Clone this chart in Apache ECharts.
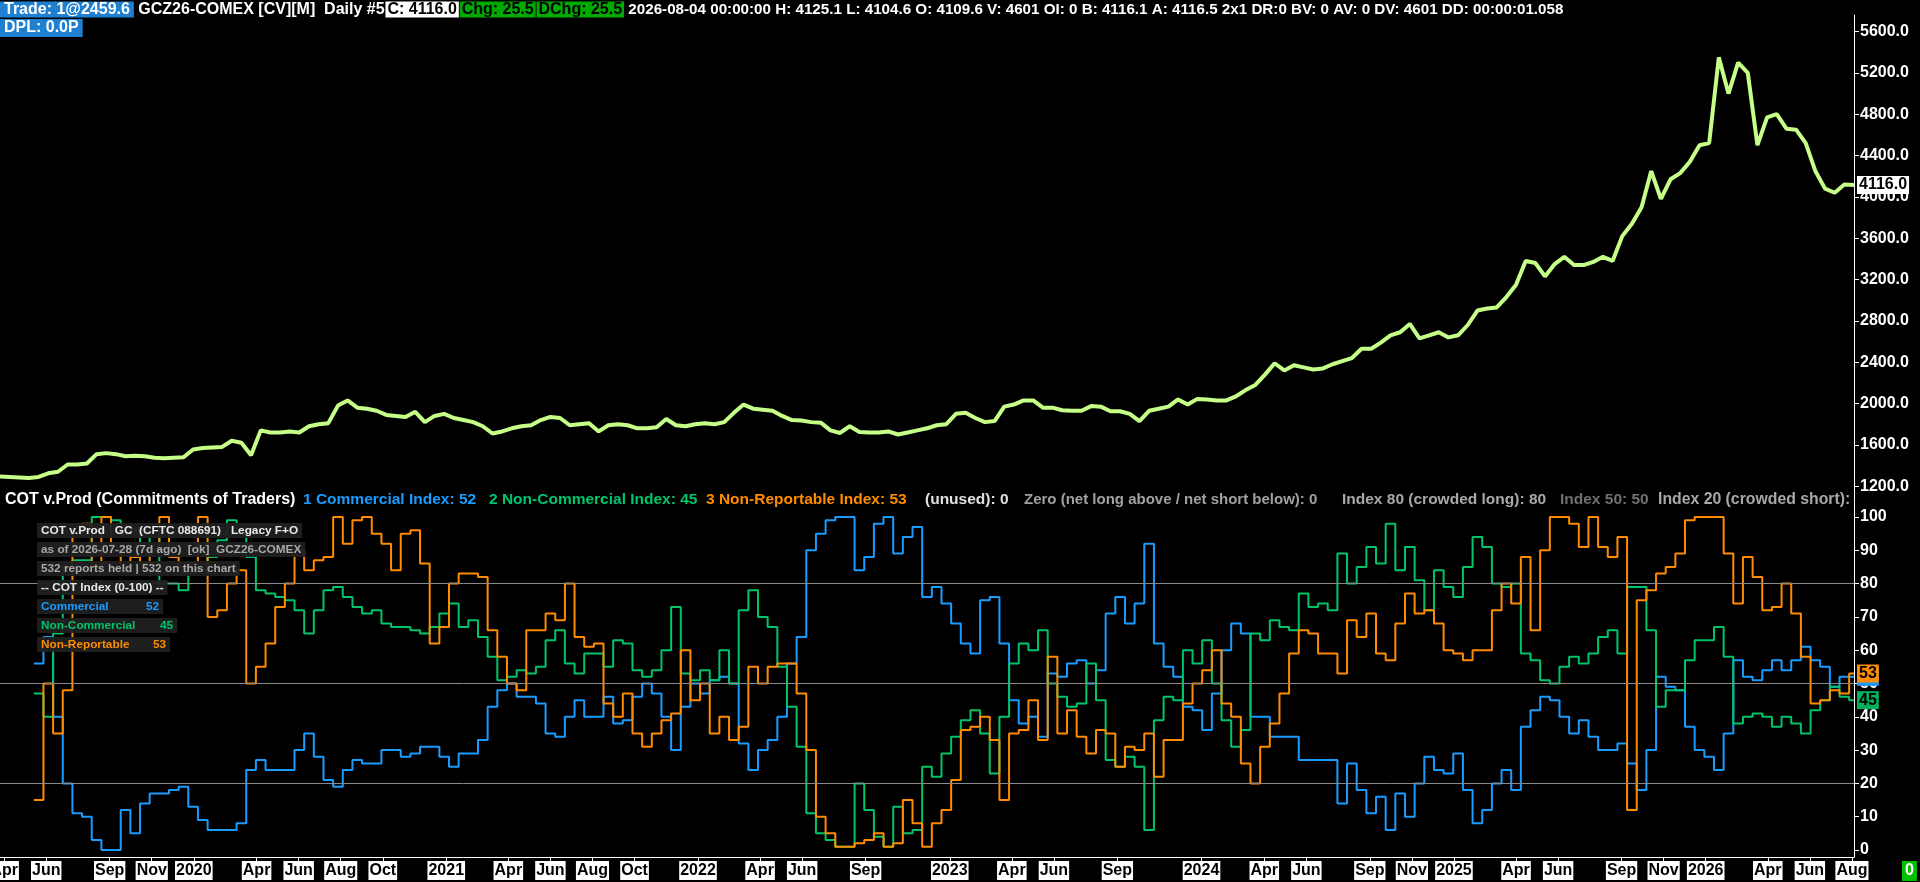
<!DOCTYPE html>
<html><head><meta charset="utf-8">
<script src="https://cdn.jsdelivr.net/npm/echarts@6/dist/echarts.min.js"></script>
<style>html,body{margin:0;padding:0;background:#000;overflow:hidden}#c{width:1920px;height:882px}</style>
</head><body><div id="c"></div>
<script>
// ---------- data ----------
const START = '2019-03-26';
const END = '2026-08-04';
const STEP_DAYS = 14;   // one sample every two weeks from START

const goldClose = [
1295,1290,1285,1280,1290,1325,1340,1410,1410,1420,
1510,1520,1510,1490,1495,1490,1475,1470,1475,1480,
1555,1570,1575,1580,1640,1620,1500,1740,1720,1720,
1730,1720,1780,1800,1810,1980,2030,1960,1950,1930,
1890,1880,1870,1920,1820,1880,1900,1860,1840,1820,
1780,1710,1730,1760,1780,1790,1840,1870,1860,1790,
1800,1810,1730,1790,1800,1790,1760,1760,1770,1850,
1790,1780,1800,1810,1800,1820,1910,1990,1950,1940,
1930,1880,1840,1835,1820,1815,1740,1715,1780,1725,
1720,1720,1730,1700,1720,1740,1760,1790,1800,1900,
1910,1860,1820,1830,1970,1990,2030,2030,1960,1960,
1935,1930,1930,1975,1970,1925,1925,1900,1830,1930,
1950,1970,2040,1990,2045,2040,2030,2030,2070,2130,
2180,2280,2390,2320,2370,2350,2330,2340,2380,2410,
2440,2530,2530,2590,2660,2690,2770,2630,2660,2690,
2640,2660,2760,2900,2920,2930,3030,3150,3380,3360,
3230,3350,3420,3340,3340,3370,3420,3380,3620,3740,
3900,4250,3980,4170,4230,4340,4500,4520,5350,5000,
5300,5200,4500,4770,4800,4660,4650,4520,4250,4080,
4040,4120,4116];

const commercial = [
null,null,null,null,56,64,40,20,11,10,
3,0,0,12,5,14,17,17,18,19,
13,9,6,6,6,8,24,27,24,24,
24,30,35,28,21,19,24,27,26,26,
30,30,28,29,31,31,28,25,29,29,
33,43,48,50,46,46,44,35,34,40,
45,40,40,46,38,39,46,50,47,40,
30,43,50,47,51,52,50,32,24,30,
33,40,56,64,90,95,99,100,100,84,
88,98,100,89,94,97,76,79,74,68,
62,59,75,76,62,45,38,40,34,53,
52,56,57,50,54,71,76,68,74,92,
62,55,52,43,42,36,47,60,68,65,
40,40,34,34,34,27,27,27,27,14,
26,18,11,16,6,17,10,20,28,24,
23,29,18,8,12,20,24,18,37,42,
46,45,40,35,39,34,30,30,32,26,
18,30,52,49,48,37,30,28,24,35,
57,52,51,54,57,54,57,61,57,55,
49,52,52];

const nonCommercial = [
null,null,null,null,47,40,65,85,87,87,
100,100,99,95,96,90,94,80,80,78,
84,84,88,93,99,95,88,78,77,76,
75,72,65,72,78,79,76,73,71,72,
68,67,67,66,65,67,71,74,67,69,
64,58,51,52,54,53,55,63,66,56,
53,59,59,55,63,62,54,52,54,60,
73,53,51,54,51,60,50,72,78,70,
67,55,43,31,11,5,3,1,1,20,
12,4,1,13,5,6,25,22,29,34,
39,42,35,23,40,56,62,60,66,50,
46,43,44,56,45,27,25,28,25,6,
39,46,45,60,56,63,50,39,31,36,
65,63,69,67,66,77,73,74,72,89,
80,85,91,86,98,84,91,81,72,84,
79,76,85,94,91,80,79,80,59,57,
51,50,55,58,56,59,64,66,59,79,
79,66,43,48,48,57,63,63,67,58,
38,40,41,40,37,40,38,35,42,45,
49,46,45];

const nonReportable = [
null,null,null,null,15,50,35,48,95,98,
85,100,90,85,88,86,90,100,88,85,
86,100,70,72,80,84,50,55,62,73,
80,90,84,87,88,100,92,99,100,95,
92,84,95,96,86,62,67,80,83,83,
82,66,58,50,48,66,66,71,69,80,
64,61,62,44,40,47,35,31,35,39,
41,60,45,50,35,40,33,37,55,50,
55,56,56,47,30,10,5,1,1,2,
3,5,1,2,15,8,1,8,12,21,
36,37,40,33,15,35,36,45,33,58,
35,42,34,29,36,35,25,31,30,35,
22,33,33,44,50,54,60,44,40,26,
20,31,38,47,59,66,65,59,59,53,
69,64,71,59,57,68,77,71,72,68,
60,59,57,60,60,72,80,74,88,66,
90,100,100,98,91,100,91,88,94,12,
75,78,83,85,89,99,100,100,100,89,
74,88,82,72,73,80,71,58,44,45,
48,47,53];

const priceTicks = [1200,1600,2000,2400,2800,3200,3600,4000,4400,4800,5200,5600];
const cotTicks = [0,10,20,30,40,50,60,70,80,90,100];
const refLevels = [80,50,20];
const lastPrice = 4116.0;
const monthLabels = ['2019-04-01','2019-06-01','2019-09-01','2019-11-01','2020-01-01','2020-04-01','2020-06-01','2020-08-01','2020-10-01',
 '2021-01-01','2021-04-01','2021-06-01','2021-08-01','2021-10-01','2022-01-01','2022-04-01','2022-06-01','2022-09-01',
 '2023-01-01','2023-04-01','2023-06-01','2023-09-01','2024-01-01','2024-04-01','2024-06-01','2024-09-01','2024-11-01',
 '2025-01-01','2025-04-01','2025-06-01','2025-09-01','2025-11-01','2026-01-01','2026-04-01','2026-06-01','2026-08-01'];
const MONTHS = ['Jan','Feb','Mar','Apr','May','Jun','Jul','Aug','Sep','Oct','Nov','Dec'];

// ---------- helpers ----------
function dayTs(s){const p=s.split('-').map(Number);return new Date(p[0],p[1]-1,p[2]).getTime();}
const sp = START.split('-').map(Number);
function pointTs(k){return new Date(sp[0],sp[1]-1,sp[2]+k*STEP_DAYS).getTime();}
const pairs = arr => arr.map((v,k)=>[pointTs(k), v]);
const labelTs = monthLabels.map(dayTs);
const lastOf = arr => arr[arr.length-1];

const FONT = '"Liberation Sans", Arial, Helvetica, sans-serif';
const C_BLUE = '#1a9cff', C_GREEN = '#00c46a', C_ORANGE = '#ff8c00';

function rs(o){return Object.assign({fontFamily:FONT,fontSize:16,fontWeight:'bold',lineHeight:19},o);}

const headerText = '{a|Trade: 1@2459.6}{w| GCZ26-COMEX [CV][M]  Daily #5}{s| }{c|C: 4116.0}{s| }{g|Chg: 25.5}{s| }{g|DChg: 25.5}{t| 2026-08-04 00:00:00 H: 4125.1 L: 4104.6 O: 4109.6 V: 4601 OI: 0 B: 4116.1 A: 4116.5 2x1 DR:0 BV: 0 AV: 0 DV: 4601 DD: 00:00:01.058}';

const cotTitleParts = [
 ['COT v.Prod (Commitments of Traders)', 5, '#ffffff', 16],
 ['1 Commercial Index: 52', 303, C_BLUE, 15.5],
 ['2 Non-Commercial Index: 45', 489, C_GREEN, 15.5],
 ['3 Non-Reportable Index: 53', 706, C_ORANGE, 15.5],
 ['(unused): 0', 925, '#e0e0e0', 15.5],
 ['Zero (net long above / net short below): 0', 1024, '#a0a0a0', 15],
 ['Index 80 (crowded long): 80', 1342, '#a8a8a8', 15.5],
 ['Index 50: 50', 1560, '#707070', 15.5],
 ['Index 20 (crowded short):', 1658, '#a8a8a8', 15.8]
];

const infoRows = [
 {top:523, text:'COT v.Prod   GC  (CFTC 088691)   Legacy F+O', color:'#e8e8e8'},
 {top:542, text:'as of 2026-07-28 (7d ago)  [ok]  GCZ26-COMEX', color:'#a8a8a8'},
 {top:561, text:'532 reports held | 532 on this chart', color:'#a8a8a8'},
 {top:580, text:'-- COT Index (0-100) --', color:'#e8e8e8'},
 {top:599, name:'Commercial', val:lastOf(commercial), color:C_BLUE, w:105},
 {top:618, name:'Non-Commercial', val:lastOf(nonCommercial), color:C_GREEN, w:119},
 {top:637, name:'Non-Reportable', val:lastOf(nonReportable), color:C_ORANGE, w:112}
];
const INFO_FS = 11.8;

const titles = [
 {left:0, top:0, padding:0, text:headerText, textStyle:{fontFamily:FONT,fontSize:16,fontWeight:'bold',color:'#fff',lineHeight:19,
   rich:{a:rs({color:'#fff',backgroundColor:'#1f7fd1',padding:[0,4]}), w:rs({color:'#fff'}), t:rs({color:'#fff',fontSize:15.2}),
         c:rs({color:'#000',backgroundColor:'#fff',padding:[0,2]}),
         g:rs({color:'#000',backgroundColor:'#00aa00',padding:[0,2]}), s:rs({fontSize:3})}}},
 {left:0, top:19, padding:[0,4], backgroundColor:'#1f7fd1', text:'DPL: 0.0P', textStyle:{fontFamily:FONT,fontSize:16,fontWeight:'bold',color:'#fff',lineHeight:18}},
 {left:1902, top:861, padding:[1,3], backgroundColor:'#00c000', text:'0', textStyle:{fontFamily:FONT,fontSize:16,fontWeight:'bold',color:'#fff',lineHeight:18}}
];
cotTitleParts.forEach(p=>titles.push({left:p[1], top:491, padding:0, text:p[0], textStyle:{fontFamily:FONT,fontSize:p[3],fontWeight:'bold',color:p[2],lineHeight:18}}));
infoRows.forEach(r=>{
  const t = {left:37, top:r.top, padding:[1,4], backgroundColor:'rgba(32,32,32,0.95)'};
  if (r.text) { t.text = r.text; t.textStyle = {fontFamily:FONT,fontSize:INFO_FS,color:r.color,lineHeight:13}; }
  else { t.text = '{n|'+r.name+'}{v|'+r.val+'}'; t.textStyle = {fontFamily:FONT,fontSize:INFO_FS,color:r.color,lineHeight:13,
     rich:{n:{fontFamily:FONT,fontSize:INFO_FS,color:r.color,width:r.w,lineHeight:13}, v:{fontFamily:FONT,fontSize:INFO_FS,color:r.color,lineHeight:13}}}; }
  titles.push(t);
});

function valueTag(val, text, bg){
  return {silent:true, symbol:['none','none'], lineStyle:{color:'rgba(0,0,0,0)', width:0},
    label:{show:true, position:'end', distance:3, formatter:text, color:'#000', backgroundColor:bg,
      fontFamily:FONT, fontWeight:'bold', fontSize:16, lineHeight:18, padding:[0,2]},
    data:[{yAxis:val}]};
}

const axisTxt = {color:'#fff', fontFamily:FONT, fontWeight:'bold', fontSize:16};
const xMin = dayTs(START), xMax = dayTs(END);

const option = {
  backgroundColor:'#000',
  animation:false,
  title:titles,
  grid:[{left:0,right:66,top:15,height:490,outerBoundsMode:'none',containLabel:false},
        {left:0,right:66,top:505,height:352,outerBoundsMode:'none',containLabel:false}],
  xAxis:[
    {type:'value', gridIndex:0, min:xMin, max:xMax, show:false, splitLine:{show:false}},
    {type:'value', gridIndex:1, min:xMin, max:xMax,
     axisLine:{show:true, onZero:false, lineStyle:{color:'#fff', width:1}},
     axisTick:{show:true, customValues:labelTs, length:4, lineStyle:{color:'#fff'}},
     axisLabel:{customValues:labelTs, margin:4, color:'#000', backgroundColor:'#fff', fontFamily:FONT, fontWeight:'bold', fontSize:16, lineHeight:18, padding:[1,1,0,1],
       formatter:function(v){const d=new Date(v);return d.getMonth()===0?String(d.getFullYear()):MONTHS[d.getMonth()];}},
     splitLine:{show:false}}
  ],
  yAxis:[
    {type:'value', gridIndex:0, position:'right', min:1018, max:5760,
     axisLine:{show:true, lineStyle:{color:'#fff'}}, axisTick:{show:true, customValues:priceTicks, length:5, lineStyle:{color:'#fff'}},
     axisLabel:Object.assign({customValues:priceTicks, margin:6, formatter:v=>Number(v).toFixed(1)}, axisTxt), splitLine:{show:false}},
    {type:'value', gridIndex:1, position:'right', min:-2.1, max:103.6,
     axisLine:{show:true, lineStyle:{color:'#fff'}}, axisTick:{show:true, customValues:cotTicks, length:5, lineStyle:{color:'#fff'}},
     axisLabel:Object.assign({customValues:cotTicks, margin:6}, axisTxt), splitLine:{show:false}}
  ],
  series:[
    {name:'GCZ26', type:'line', xAxisIndex:0, yAxisIndex:0, data:pairs(goldClose), symbol:'none', clip:false,
     lineStyle:{color:'#c6ff88', width:4}, markLine:valueTag(lastPrice, lastPrice.toFixed(1), '#fff')},
    {name:'ref', type:'line', xAxisIndex:1, yAxisIndex:1, data:[[xMin,50]], symbol:'none', z:1, lineStyle:{opacity:0},
     markLine:{silent:true, symbol:['none','none'], lineStyle:{color:'#8a8a8a', width:1, type:'solid'}, label:{show:false}, data:refLevels.map(v=>({yAxis:v}))}},
    {name:'Commercial', type:'line', step:'middle', xAxisIndex:1, yAxisIndex:1, data:pairs(commercial), symbol:'none', z:3,
     lineStyle:{color:C_BLUE, width:2}, markLine:valueTag(lastOf(commercial), String(lastOf(commercial)), C_BLUE)},
    {name:'Non-Commercial', type:'line', step:'middle', xAxisIndex:1, yAxisIndex:1, data:pairs(nonCommercial), symbol:'none', z:3,
     lineStyle:{color:C_GREEN, width:2}, markLine:valueTag(lastOf(nonCommercial), String(lastOf(nonCommercial)), '#00b05c')},
    {name:'Non-Reportable', type:'line', step:'middle', xAxisIndex:1, yAxisIndex:1, data:pairs(nonReportable), symbol:'none', z:3,
     lineStyle:{color:C_ORANGE, width:2}, markLine:valueTag(lastOf(nonReportable), String(lastOf(nonReportable)), C_ORANGE)}
  ]
};
const chart = echarts.init(document.getElementById('c'), null, {renderer:'canvas'});
chart.setOption(option);
</script></body></html>
